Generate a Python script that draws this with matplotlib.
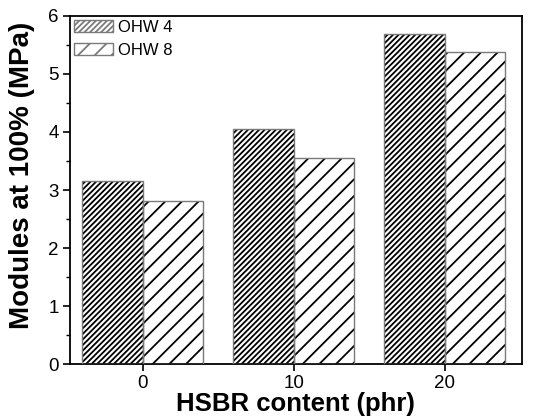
import matplotlib
matplotlib.use("Agg")
import matplotlib.pyplot as plt
import numpy as np
from matplotlib.patches import Patch

plt.rcParams['font.family'] = ['Liberation Sans', 'DejaVu Sans']
plt.rcParams['hatch.linewidth'] = 1.3
plt.rcParams['hatch.color'] = 'black'

categories = [0, 10, 20]
tick_labels = ['0', '10', '20']
series_names = ['OHW 4', 'OHW 8']
ohw4 = [3.15, 4.05, 5.68]
ohw8 = [2.81, 3.55, 5.38]

fig = plt.figure(figsize=(5.47, 4.19), dpi=100)
ax = fig.add_axes([0.128, 0.131, 0.826, 0.831])

x = np.array(categories, dtype=float)
w = 4.0
hatches = ['//////', '//']
for vals, off, h in [(ohw4, -w/2, hatches[0]), (ohw8, w/2, hatches[1])]:
    ax.bar(x + off, vals, width=w, facecolor='white', edgecolor='black',
           hatch=h, linewidth=0, zorder=2)
    ax.bar(x + off, vals, width=w, fill=False, edgecolor='#7a7a7a',
           linewidth=1.0, zorder=3)

leg_handles = [Patch(facecolor='white', edgecolor='#7a7a7a', hatch=h, label=n, linewidth=1.0)
               for h, n in zip(hatches, series_names)]
leg = ax.legend(handles=leg_handles, loc='upper left', frameon=False, fontsize=12,
                handlelength=2.3, handleheight=0.75, handletextpad=0.35,
                borderaxespad=0.1, labelspacing=0.45, borderpad=0.15)

ax.set_xlim(-4.8, 25.1)
ax.set_ylim(0, 6)
ax.set_xticks(categories)
ax.set_xticklabels(tick_labels)
ax.set_yticks([0, 1, 2, 3, 4, 5, 6])
ax.set_yticks(np.arange(0.5, 6, 1.0), minor=True)
ax.tick_params(axis='both', which='major', direction='out', length=5, width=1.2,
               labelsize=13.5, top=False, right=False, pad=3)
ax.tick_params(axis='y', which='minor', direction='out', length=3, width=1.0)
for s in ax.spines.values():
    s.set_linewidth(1.3)
ax.set_xlabel('HSBR content (phr)', fontsize=18.5, fontweight='bold', labelpad=0)
ax.set_ylabel('Modules at 100% (MPa)', fontsize=20, fontweight='bold')
ax.yaxis.set_label_coords(-0.078, 0.543)

fig.savefig('out.png', dpi=100)
